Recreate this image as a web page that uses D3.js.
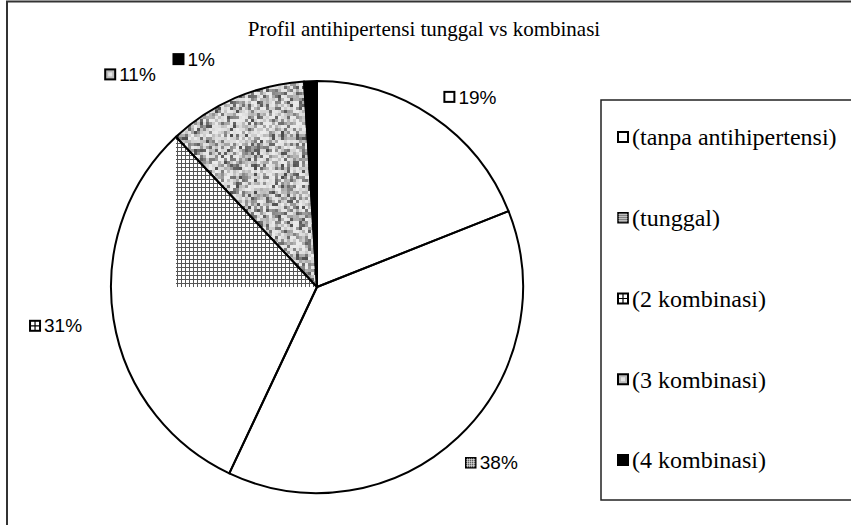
<!DOCTYPE html>
<html>
<head>
<meta charset="utf-8">
<script src="https://cdn.jsdelivr.net/npm/d3@7"></script>
<style>
  body { margin: 0; background: #fff; }
  svg { display: block; }
  .serif { font-family: "Liberation Serif", "DejaVu Serif", serif; }
  .sans { font-family: "Liberation Sans", Arial, sans-serif; }
</style>
</head>
<body>
<div class="grafico"></div>
<script>
const categories = ["(tanpa antihipertensi)", "(tunggal)", "(2 kombinasi)", "(3 kombinasi)", "(4 kombinasi)"];
const values = [19, 38, 31, 11, 1];
const percentLabels = ["19%", "38%", "31%", "11%", "1%"];
const title = "Profil antihipertensi tunggal vs kombinasi";

const width = 851, height = 525;
const cx = 317, cy = 287, radius = 206;

// label nudges (pixels) from the default outside position
const labelNudge = [[14, 15], [5, -5], [-16, 0], [-88, 15], [-115, 20]];

const svg = d3.select(".grafico")
    .append("svg")
    .attr("width", width)
    .attr("height", height);

const defs = svg.append("defs");

// small grid (2 kombinasi slice)
const grid = defs.append("pattern")
    .attr("id", "grid")
    .attr("patternUnits", "userSpaceOnUse")
    .attr("width", 4).attr("height", 4);
grid.append("rect").attr("width", 4).attr("height", 4).attr("fill", "#fff");
grid.append("path").attr("d", "M0,0.5H4M0.5,0V4")
    .attr("stroke", "#555").attr("stroke-width", 1);

// speckled gray texture (3 kombinasi slice), deterministic integer hash
function hash(i, j) {
    let n = Math.imul(i, 374761393) + Math.imul(j, 668265263);
    n = Math.imul(n ^ (n >>> 13), 1274126177);
    n ^= n >>> 16;
    return (n >>> 0) / 4294967296;
}
const noise = defs.append("pattern")
    .attr("id", "noise")
    .attr("patternUnits", "userSpaceOnUse")
    .attr("width", 120).attr("height", 120);
const cells = [];
for (let i = 0; i < 40; i++) {
    for (let j = 0; j < 40; j++) {
        const h = hash(i, j);
        cells.push({ i, j, g: Math.round(235 - h * h * 160) });
    }
}
noise.selectAll("rect").data(cells).join("rect")
    .attr("x", d => d.i * 3).attr("y", d => d.j * 3)
    .attr("width", 3).attr("height", 3)
    .attr("fill", d => `rgb(${d.g},${d.g},${d.g})`);

// outer chart frame
svg.append("rect")
    .attr("x", 7).attr("y", 1.5)
    .attr("width", 900).attr("height", 600)
    .attr("fill", "#fff")
    .attr("stroke", "#333")
    .attr("stroke-width", 2);

svg.append("text")
    .attr("class", "serif")
    .attr("x", 424).attr("y", 36)
    .attr("text-anchor", "middle")
    .attr("font-size", 21)
    .text(title);

const pie = d3.pie().value(d => d).sort(null);
const arcs = pie(values);

const arc = d3.arc().innerRadius(0).outerRadius(radius);
const labelArc = d3.arc().innerRadius(radius + 42).outerRadius(radius + 42);

const g = svg.append("g").attr("transform", `translate(${cx},${cy})`);

const fills = ["#fff", "#fff", "#fff", "url(#noise)", "#000"];

g.selectAll("path.slice")
    .data(arcs)
    .join("path")
    .attr("class", "slice")
    .attr("d", arc)
    .attr("fill", (d, i) => fills[i]);

// the grid only shows in a box from the slice start point to the centre
const s2 = arcs[2];
defs.append("clipPath").attr("id", "clip2")
    .append("path").attr("d", arc(s2));
const px = radius * Math.sin(s2.endAngle), py = -radius * Math.cos(s2.endAngle);
g.append("rect")
    .attr("x", px).attr("y", py)
    .attr("width", -px).attr("height", -py)
    .attr("fill", "url(#grid)")
    .attr("clip-path", "url(#clip2)");

g.selectAll("path.outline")
    .data(arcs)
    .join("path")
    .attr("class", "outline")
    .attr("d", arc)
    .attr("fill", "none")
    .attr("stroke", "#000")
    .attr("stroke-width", 2)
    .attr("stroke-linejoin", "round");

// legend swatches drawn for each category
function swatch(sel, i) {
    const s = 10;
    if (i === 0) {
        sel.append("rect").attr("width", s).attr("height", s)
            .attr("fill", "#fff").attr("stroke", "#000").attr("stroke-width", 2);
    } else if (i === 1) {
        sel.append("rect").attr("width", s).attr("height", s)
            .attr("fill", "#000").attr("stroke", "#000").attr("stroke-width", 1.5);
        let d = "";
        for (let k = 2; k < s; k += 2) d += `M${k},0.5V${s - 0.5}M0.5,${k}H${s - 0.5}`;
        sel.append("path").attr("d", d).attr("stroke", "#fff").attr("stroke-width", 0.8);
    } else if (i === 2) {
        sel.append("rect").attr("width", s).attr("height", s)
            .attr("fill", "#fff").attr("stroke", "#000").attr("stroke-width", 2);
        sel.append("path").attr("d", `M${s / 2},0V${s}M0,${s / 2}H${s}`)
            .attr("stroke", "#000").attr("stroke-width", 1.2);
    } else if (i === 3) {
        sel.append("rect").attr("width", s).attr("height", s)
            .attr("fill", "#bbb").attr("stroke", "#000").attr("stroke-width", 2);
        sel.append("rect").attr("x", 3).attr("y", 3).attr("width", 4).attr("height", 4)
            .attr("fill", "#e4e4e4");
    } else {
        sel.append("rect").attr("width", s).attr("height", s)
            .attr("fill", "#000").attr("stroke", "#000").attr("stroke-width", 2);
    }
}

// percentage labels
const lab = svg.append("g").attr("transform", `translate(${cx},${cy})`)
    .selectAll("g")
    .data(arcs)
    .join("g")
    .attr("transform", (d, i) => {
        const c = labelArc.centroid(d);
        return `translate(${c[0] + labelNudge[i][0]},${c[1] + labelNudge[i][1]})`;
    });

lab.each(function (d, i) {
    const sel = d3.select(this);
    const t = sel.append("text")
        .attr("class", "sans")
        .attr("x", 0).attr("y", 0)
        .attr("dy", "0.35em")
        .attr("font-size", 19)
        .attr("fill", "#000")
        .text(percentLabels[i]);
    const w = t.node().getComputedTextLength();
    const total = w + 14;
    t.attr("x", -total / 2 + 14);
    const sw = sel.append("g").attr("transform", `translate(${-total / 2},-5)`);
    swatch(sw, i);
});

// legend
const legend = svg.append("g");
legend.append("rect")
    .attr("x", 601).attr("y", 100)
    .attr("width", 300).attr("height", 400)
    .attr("fill", "#fff")
    .attr("stroke", "#222")
    .attr("stroke-width", 1.5);

const ly = d3.scalePoint().domain(categories).range([137, 460]);

const items = legend.selectAll("g.item")
    .data(categories)
    .join("g")
    .attr("class", "item")
    .attr("transform", d => `translate(618,${ly(d)})`);

items.each(function (d, i) {
    swatch(d3.select(this).append("g").attr("transform", "translate(0,-5)"), i);
});

items.append("text")
    .attr("class", "serif")
    .attr("x", 14)
    .attr("dy", "0.35em")
    .attr("font-size", 24)
    .text(d => d);
</script>
</body>
</html>
